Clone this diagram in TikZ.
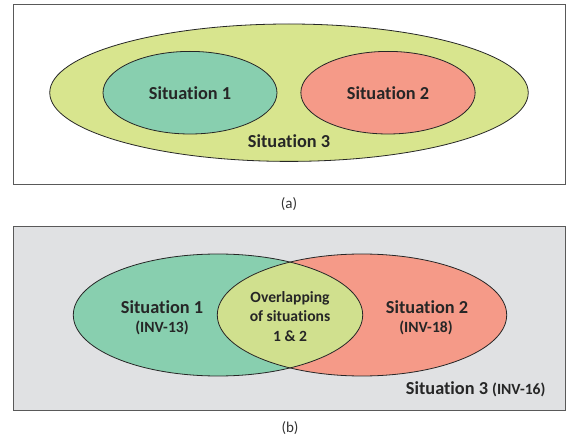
\documentclass[tikz,border=0pt]{standalone}
\usepackage{fontspec}
\setmainfont{Carlito}[RawFeature={-liga;-dlig;-calt;-clig}]
\usetikzlibrary{shapes.geometric}
\definecolor{yel}{HTML}{D8E58E}
\definecolor{lens}{HTML}{D0E08E}
\definecolor{grn}{HTML}{88CFAF}
\definecolor{rd}{HTML}{F59A88}
\definecolor{bg}{HTML}{E0E1E3}
\definecolor{ink}{HTML}{262626}
\begin{document}
\begin{tikzpicture}[x=1pt,y=-1pt,
  blob/.style={ellipse, inner sep=0pt},
  edge/.style={draw=ink, line width=0.8pt},
  lbl/.style={font=\bfseries\fontsize{18.3}{22}\selectfont, text=ink},
  sublbl/.style={font=\bfseries\fontsize{15.6}{19.5}\selectfont, text=ink, align=center},
  panel/.style={draw=black!65, line width=1pt, inner sep=0pt, anchor=north west},
  caption/.style={font=\fontsize{15}{18}\selectfont, text=black!80}]
\useasboundingbox (0,0) rectangle (566,441);
% ---- panel (a)
\node[panel, fill=white, minimum width=552.3pt, minimum height=179.4pt] (boxa) at (12.7,4.3) {};
\node[blob, edge, fill=yel, minimum width=478.5pt, minimum height=137.4pt] (s3a) at (289,92.7) {};
\node[blob, edge, fill=grn, minimum width=174pt, minimum height=82.6pt] (s1a) at (190,92.7) {};
\node[blob, edge, fill=rd, minimum width=174.3pt, minimum height=82.6pt] (s2a) at (388,92.7) {};
\node[lbl] (t1a) at (190,93) {Situation 1};
\node[lbl] (t2a) at (388,93) {Situation 2};
\node[lbl] (t3a) at (289,140.7) {Situation 3};
\node[caption] (capa) at (289,204.5) {(a)};
% ---- panel (b)
\node[panel, fill=bg, minimum width=552.3pt, minimum height=183.5pt] (boxb) at (12.7,226.5) {};
\node[blob, fill=grn, minimum width=289.4pt, minimum height=122pt] (s1b) at (218,315) {};
\node[blob, fill=rd, minimum width=289.4pt, minimum height=122pt] (s2b) at (362,315) {};
\begin{scope}
  \clip (s1b.center) ellipse [x radius=144.7pt, y radius=61pt];
  \fill[lens] (s2b.center) ellipse [x radius=144.7pt, y radius=61pt];
\end{scope}
\draw[edge] (s1b.center) ellipse [x radius=144.7pt, y radius=61pt];
\draw[edge] (s2b.center) ellipse [x radius=144.7pt, y radius=61pt];
\node[lbl] (t1b) at (162,307.3) {Situation 1};
\node[sublbl] (i1b) at (162,328) {(INV-13)};
\node[sublbl] (ovb) at (290,316.5) {Overlapping\\of situations\\1 \& 2};
\node[lbl] (t2b) at (427,307.3) {Situation 2};
\node[sublbl] (i2b) at (426,328) {(INV-18)};
\node[lbl, anchor=base east] (t3b) at (549,395) {Situation 3 {\fontsize{15.6}{19.5}\selectfont (INV-16)}};
\node[caption] (capb) at (290,428) {(b)};
\end{tikzpicture}
\end{document}
